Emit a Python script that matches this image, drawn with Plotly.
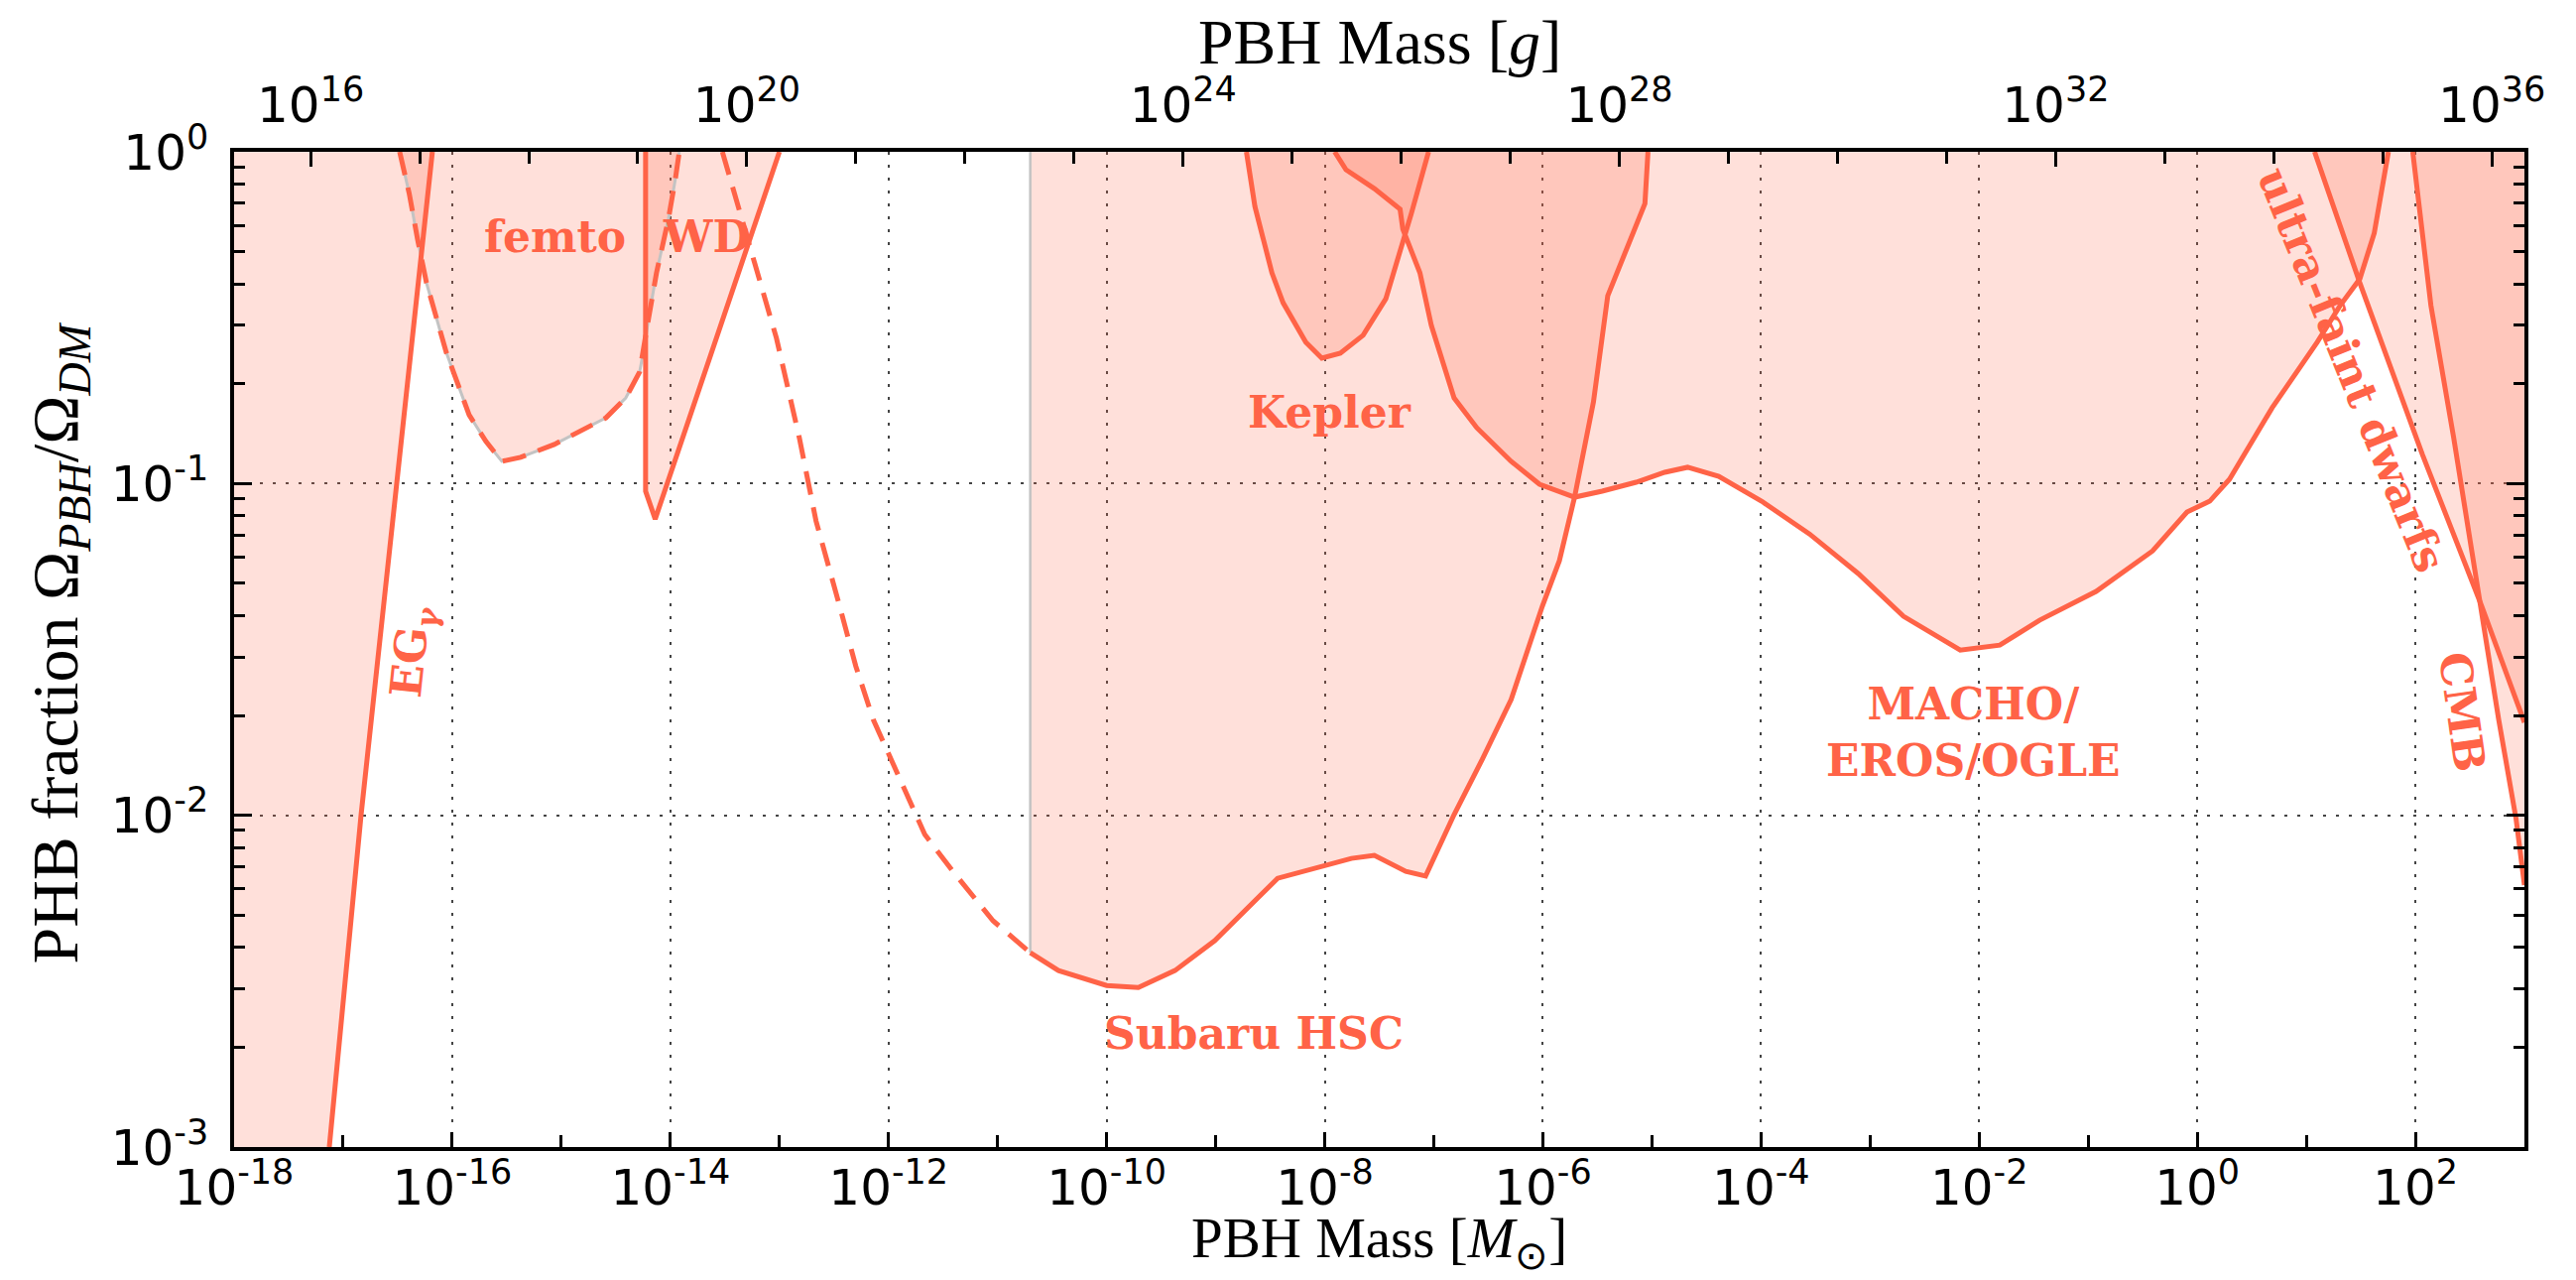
import numpy as np
import plotly.graph_objects as go

# ---------------- data (log10 of mass in solar masses, log10 of f) ----------------
LOG_MSUN_G = np.log10(1.989e33)

eg_logm = [-17.127, -16.836, -16.509, -16.182]
eg_logf = [-3.0, -2.0, -1.0, 0.0]

femto_logm = [-16.482, -16.394, -16.318, -16.236, -16.055, -15.845, -15.691, -15.545,
              -15.373, -15.064, -14.591, -14.409, -14.282, -14.236, -14.200, -14.127,
              -14.018, -13.955, -13.918]
femto_logf = [0.0, -0.126, -0.263, -0.395, -0.604, -0.793, -0.873, -0.933,
              -0.921, -0.882, -0.802, -0.742, -0.664, -0.583, -0.503, -0.365,
              -0.203, -0.084, 0.0]

wd_logm = [-14.227, -14.227, -14.139, -13.0]
wd_logf = [0.0, -1.023, -1.107, 0.0]

hscext_logm = [-13.523, -13.236, -13.027, -12.818, -12.664, -12.455, -12.300, -12.140,
               -11.932, -11.667, -11.409, -11.041, -10.700]
hscext_logf = [0.0, -0.323, -0.562, -0.861, -1.113, -1.361, -1.550, -1.711,
               -1.861, -2.058, -2.169, -2.318, -2.414]

hsc_logm = [-10.700, -10.441, -10.000, -9.709, -9.373, -9.009, -8.432, -8.014, -7.755,
            -7.545, -7.257, -7.075, -6.814, -6.555, -6.291, -6.005, -5.848, -5.709,
            -5.536, -5.405, -5.064, -5.036]
hsc_logf = [-2.414, -2.468, -2.513, -2.519, -2.468, -2.378, -2.190, -2.154, -2.130,
            -2.121, -2.169, -2.183, -1.998, -1.831, -1.651, -1.370, -1.232, -1.041,
            -0.754, -0.434, -0.156, 0.0]

kep_logm = [-8.718, -8.640, -8.484, -8.382, -8.173, -8.027, -7.857, -7.648, -7.440,
            -7.309, -7.205, -7.048]
kep_logf = [0.0, -0.165, -0.365, -0.455, -0.574, -0.622, -0.607, -0.553, -0.443,
            -0.305, -0.185, 0.0]

macho_logm = [-7.909, -7.805, -7.545, -7.309, -7.284, -7.127, -7.023, -6.814, -6.605,
              -6.291, -6.031, -5.709, -5.456, -5.145, -4.882, -4.673, -4.387, -3.995,
              -3.555, -3.109, -2.694, -2.173, -1.810, -1.446, -0.927, -0.409, -0.094,
              0.115, 0.296, 0.686, 1.100, 1.309, 1.491, 1.623, 1.753]
macho_logf = [0.0, -0.054, -0.111, -0.173, -0.233, -0.365, -0.523, -0.742, -0.832,
              -0.933, -1.002, -1.041, -1.023, -0.996, -0.966, -0.951, -0.978, -1.053,
              -1.152, -1.271, -1.400, -1.502, -1.487, -1.412, -1.325, -1.203, -1.086,
              -1.053, -0.987, -0.772, -0.574, -0.464, -0.383, -0.245, 0.0]

ufd_logm = [1.076, 1.491, 2.064, 2.300, 2.609, 3.0]
ufd_logf = [0.0, -0.395, -0.912, -1.113, -1.370, -1.72]

cmb_logm = [1.976, 2.143, 2.351, 2.582, 2.764, 2.923, 3.0]
cmb_logf = [0.0, -0.464, -0.861, -1.340, -1.711, -2.010, -2.21]

x_range_log = [-18, 3]
y_range_log = [-3, 0]
bottom_tick_exp = list(range(-18, 3, 2))
top_tick_exp = [16, 20, 24, 28, 32, 36]
left_tick_exp = [0, -1, -2, -3]

# labels: (text, logM, logf, angle)
labels = [
    ("femto", -15.055, -0.257, 0),
    ("WD", -13.664, -0.257, 0),
    ("Kepler", -7.955, -0.784, 0),
    ("Subaru HSC", -8.655, -2.659, 0),
    ("MACHO/<br>EROS/OGLE", -2.055, -1.75, 0),
    ("EG<sub><i>γ</i></sub>", -16.364, -1.505, -84),
    ("ultra-faint dwarfs", 1.415, -0.658, 68),
    ("CMB", 2.436, -1.69, 82),
]

# ---------------- styling ----------------
FILL = "rgba(255,99,71,0.2)"
RED = "#ff6347"
GRAY = "rgb(195,195,195)"
LW = 5
DASH = "24px,13px"
TICKFONT = dict(family="DejaVu Sans", size=50, color="black")
SERIF = "Liberation Serif"

fig = go.Figure()


def pw(v):
    return [10.0 ** a for a in v]


def add_fill(lm, lf):
    fig.add_trace(go.Scatter(x=pw(lm), y=pw(lf), mode="lines", fill="toself",
                             fillcolor=FILL, line=dict(width=0), hoverinfo="skip",
                             showlegend=False))


def add_line(lm, lf, color=RED, width=LW, dash="solid"):
    fig.add_trace(go.Scatter(x=pw(lm), y=pw(lf), mode="lines",
                             line=dict(color=color, width=width, dash=dash),
                             hoverinfo="skip", showlegend=False))


# fills
add_fill([x_range_log[0]] + eg_logm + [x_range_log[0]], [y_range_log[0]] + eg_logf + [y_range_log[1]])
add_fill(femto_logm, femto_logf)
add_fill(wd_logm, wd_logf)
add_fill([hsc_logm[0]] + hsc_logm, [y_range_log[1]] + hsc_logf)
add_fill(kep_logm, kep_logf)
add_fill(macho_logm, macho_logf)
add_fill(ufd_logm + [x_range_log[1]], ufd_logf + [y_range_log[1]])
add_fill(cmb_logm + [x_range_log[1]], cmb_logf + [y_range_log[1]])

# edges / lines
add_line(femto_logm, femto_logf, color=GRAY, width=3)
add_line([hsc_logm[0], hsc_logm[0]], [hsc_logf[0], y_range_log[1]], color=GRAY, width=2.5)
add_line(eg_logm, eg_logf)
add_line(femto_logm, femto_logf, dash=DASH)
add_line(wd_logm, wd_logf)
add_line(hscext_logm, hscext_logf, dash=DASH)
add_line(hsc_logm, hsc_logf)
add_line(kep_logm, kep_logf)
add_line(macho_logm, macho_logf)
add_line(ufd_logm, ufd_logf)
add_line(cmb_logm, cmb_logf)

# empty trace so that the top (gram) axis is created
fig.add_trace(go.Scatter(x=[], y=[], xaxis="x2", yaxis="y", mode="lines",
                         hoverinfo="skip", showlegend=False))

for text, lm, lf, ang in labels:
    fig.add_annotation(x=lm, y=lf, xref="x", yref="y", text=text, showarrow=False,
                       textangle=ang, xanchor="center", yanchor="middle",
                       font=dict(family="DejaVu Serif", size=44, color=RED, weight="bold"))

# axis titles
fig.add_annotation(x=0.5, y=-0.0957, xref="paper", yref="paper", showarrow=False,
                   text="PBH Mass [<i>M</i><sub>⊙</sub>]", xanchor="center", yanchor="middle",
                   font=dict(family=SERIF, size=57, color="black"))
fig.add_annotation(x=0.5, y=1.1097, xref="paper", yref="paper", showarrow=False,
                   text="PBH Mass [<i>g</i>]", xanchor="center", yanchor="middle",
                   font=dict(family=SERIF, size=64, color="black"))
fig.add_annotation(x=-0.0762, y=0.506, xref="paper", yref="paper", showarrow=False,
                   text="PHB fraction Ω<sub><i>PBH</i></sub>/Ω<sub><i>DM</i></sub>",
                   textangle=-90, xanchor="center", yanchor="middle",
                   font=dict(family=SERIF, size=66, color="black"))


def sup(e):
    return "10<sup>%d</sup>" % e


fig.update_layout(
    width=2597, height=1290,
    margin=dict(l=228, r=60, t=145, b=142),
    paper_bgcolor="white", plot_bgcolor="white",
    showlegend=False,
    xaxis=dict(
        type="log", range=x_range_log,
        tickmode="array", tickvals=[10.0 ** e for e in bottom_tick_exp],
        ticktext=[sup(e) for e in bottom_tick_exp],
        ticks="inside", ticklen=15, tickwidth=2.5, tickcolor="black",
        tickfont=TICKFONT, ticklabelstandoff=-6,
        showline=True, linecolor="black", linewidth=3.5, mirror=True,
        showgrid=True, gridcolor="#444", gridwidth=2, griddash="3px,10px",
        minor=dict(tickmode="array",
                   tickvals=[10.0 ** e for e in range(-17, 3, 2)],
                   ticks="inside", ticklen=12, tickwidth=2.5, tickcolor="black",
                   showgrid=False),
        zeroline=False,
    ),
    xaxis2=dict(
        type="log", overlaying="x", side="top", anchor="y",
        range=[x_range_log[0] + LOG_MSUN_G, x_range_log[1] + LOG_MSUN_G],
        tickmode="array", tickvals=[10.0 ** e for e in top_tick_exp],
        ticktext=[sup(e) for e in top_tick_exp],
        ticks="inside", ticklen=15, tickwidth=2.5, tickcolor="black",
        tickfont=TICKFONT, ticklabelstandoff=6,
        showline=True, linecolor="black", linewidth=3.5,
        showgrid=False, zeroline=False,
        minor=dict(tickmode="array",
                   tickvals=[10.0 ** e for e in range(16, 37) if e not in top_tick_exp],
                   ticks="inside", ticklen=12, tickwidth=2.5, tickcolor="black",
                   showgrid=False),
    ),
    yaxis=dict(
        type="log", range=y_range_log,
        tickmode="array", tickvals=[10.0 ** e for e in left_tick_exp],
        ticktext=[sup(e) for e in left_tick_exp],
        ticks="inside", ticklen=18, tickwidth=2.5, tickcolor="black",
        tickfont=TICKFONT, ticklabelstandoff=12,
        showline=True, linecolor="black", linewidth=3.5, mirror="ticks",
        showgrid=True, gridcolor="#444", gridwidth=2, griddash="3px,10px",
        minor=dict(tickmode="array",
                   tickvals=[m * 10.0 ** e for e in (-3, -2, -1) for m in range(2, 10)],
                   ticks="inside", ticklen=11, tickwidth=2.5, tickcolor="black",
                   showgrid=False),
        zeroline=False,
    ),
)

fig.write_html("out.html")
